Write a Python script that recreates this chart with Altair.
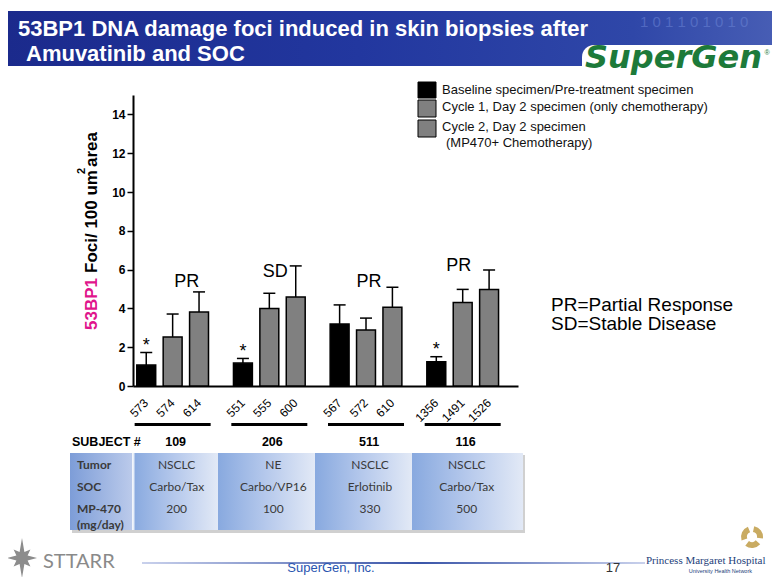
import altair as alt
import pandas as pd

# ---------------- data ----------------
subjects = ["109", "206", "511", "116"]
responses = ["PR", "SD", "PR", "PR"]
tumor_types = ["NSCLC", "NE", "NSCLC", "NSCLC"]
soc_regimens = ["Carbo/Tax", "Carbo/VP16", "Erlotinib", "Carbo/Tax"]
mp470_doses = ["200", "100", "330", "500"]
timepoints = ["Baseline specimen/Pre-treatment specimen",
              "Cycle 1, Day 2 specimen (only chemotherapy)",
              "Cycle 2, Day 2 specimen (MP470+ Chemotherapy)"]
specimen_ids = ["573", "574", "614", "551", "555", "600",
                "567", "572", "610", "1356", "1491", "1526"]
foci_mean = [1.08, 2.53, 3.81, 1.18, 3.99, 4.59, 3.20, 2.89, 4.06, 1.25, 4.31, 4.98]
foci_error = [0.65, 1.18, 1.04, 0.24, 0.79, 1.60, 0.98, 0.61, 1.03, 0.26, 0.67, 1.00]
significance = ["*", "", "", "*", "", "", "", "", "", "*", "", ""]
y_ticks = [0, 2, 4, 6, 8, 10, 12, 14]
bar_colors = ["#000000", "#808080", "#808080"]

df = pd.DataFrame({
    "subject": [s for s in subjects for _ in range(3)],
    "timepoint": timepoints * 4,
    "specimen": specimen_ids,
    "foci": foci_mean,
    "err": foci_error,
    "sig": significance,
})
df["upper"] = df["foci"] + df["err"]

groups_df = pd.DataFrame({"subject": subjects, "response": responses,
                          "tumor": tumor_types, "soc": soc_regimens, "dose": mp470_doses})

# ---------------- layout helpers ----------------
SANS = "Liberation Sans, Arial, sans-serif"
CAL = "Lato, Open Sans, sans-serif"
SERIF = "Liberation Serif, Times New Roman, serif"
W, H = 385, 291
OX, OY = 133, 95          # page position of plot origin
CANVAS_W, CANVAS_H = 764, 569


def ax(x):
    return x - OX


def ay(y):
    return y - OY


one = pd.DataFrame({"k": [0]})


def rect(x, x2, y, y2, **kw):
    return alt.Chart(one).mark_rect(**kw).encode(
        x=alt.value(ax(x)), x2=alt.value(ax(x2)), y=alt.value(ay(y)), y2=alt.value(ay(y2)))


def label(txt, x, y, **kw):
    kw.setdefault("font", SANS)
    kw.setdefault("baseline", "middle")
    return alt.Chart(one).mark_text(text=txt, **kw).encode(
        x=alt.value(ax(x)), y=alt.value(ay(y)))


def hgrad(stops):
    return alt.LinearGradient(
        gradient="linear",
        stops=[alt.GradientStop(color=c, offset=o) for o, c in stops],
        x1=0, x2=1, y1=0, y2=0)


# ---------------- scales / encodings ----------------
xscale = alt.Scale(domain=subjects, paddingInner=0.18, paddingOuter=0.081, align=0)
xoscale = alt.Scale(domain=timepoints, paddingInner=0.283, paddingOuter=0.143)
yscale = alt.Scale(domain=[0, 15], nice=False, zero=True)
cscale = alt.Scale(domain=timepoints, range=bar_colors)

xaxis = alt.Axis(labels=False, ticks=False, title=None, domainColor="black", domainWidth=2)
yaxis = alt.Axis(values=y_ticks, title=None, grid=False, labelFont=SANS, labelFontWeight="bold",
                 labelFontSize=12, labelColor="black", labelPadding=2, tickSize=6,
                 tickWidth=1.5, tickColor="black", domainColor="black", domainWidth=2)

X = alt.X("subject:N", scale=xscale, axis=xaxis, sort=subjects)
XO = alt.XOffset("timepoint:N", scale=xoscale, sort=timepoints)


def Y(field):
    return alt.Y(field, type="quantitative", scale=yscale, axis=yaxis)


layers = []

# ---------------- header banner ----------------
layers.append(rect(7, 790, 11, 66, fill=hgrad([(0, "#1b2a8c"), (0.45, "#22379f"), (0.8, "#2f47a8"), (1, "#4a60b6")])))
layers.append(label("1 0 1 1 0 1 0 1 0", 640, 22, fontSize=15, color="#6f88d8", opacity=0.5,
                    align="left"))
layers.append(rect(582, 790, 45, 80, fill="white", cornerRadiusTopLeft=12))
layers.append(label("SuperGen", 585, 68, fontSize=32, fontWeight="bold", fontStyle="italic",
                    font="DejaVu Sans", color="#1d7a3a", baseline="alphabetic", align="left"))
layers.append(label("®", 767, 53, fontSize=7, color="#1d7a3a", align="center"))
layers.append(label("53BP1 DNA damage foci induced in skin biopsies after", 18, 29,
                    fontSize=22, fontWeight="bold", color="white", align="left"))
layers.append(label("Amuvatinib and SOC", 26, 54, fontSize=22, fontWeight="bold",
                    color="white", align="left"))

# ---------------- legend (manual) ----------------
layers.append(rect(418, 436, 82, 98, fill=bar_colors[0], stroke="black", strokeWidth=1))
layers.append(rect(418, 436, 100, 117, fill=bar_colors[1], stroke="black", strokeWidth=1))
layers.append(rect(418, 436, 120, 137, fill=bar_colors[2], stroke="black", strokeWidth=1))
layers.append(label(timepoints[0], 442, 90, fontSize=13, color="#111", align="left"))
layers.append(label(timepoints[1], 442, 107, fontSize=13, color="#111", align="left"))
layers.append(label("Cycle 2, Day 2 specimen", 442, 127, fontSize=13, color="#111", align="left"))
layers.append(label("(MP470+ Chemotherapy)", 446, 143, fontSize=13, color="#111", align="left"))

# ---------------- y axis title (multi-coloured) ----------------
layers.append(label("53BP1", 92, 330, fontSize=17, fontWeight="bold", color="#e0158c",
                    angle=270, align="left"))
layers.append(label("Foci/ 100 um", 92, 273, fontSize=17, fontWeight="bold", color="black",
                    angle=270, align="left"))
layers.append(label("2", 82, 171, fontSize=11, fontWeight="bold", color="black",
                    angle=270, align="center"))
layers.append(label("area", 92, 167, fontSize=17, fontWeight="bold", color="black",
                    angle=270, align="left"))

# ---------------- bars, error bars ----------------
layers.append(alt.Chart(df).mark_bar(stroke="black", strokeWidth=1.5).encode(
    x=X, xOffset=XO, y=Y("foci"),
    color=alt.Color("timepoint:N", scale=cscale, legend=None)))
layers.append(alt.Chart(df).mark_rule(color="black", strokeWidth=1.5).encode(
    x=X, xOffset=XO, y=Y("foci"), y2=alt.Y2("upper:Q")))
layers.append(alt.Chart(df).mark_tick(color="black", thickness=1.5, size=12, opacity=1).encode(
    x=X, xOffset=XO, y=Y("upper")))
layers.append(alt.Chart(df).transform_filter("datum.sig != ''").mark_text(
    font=SANS, fontSize=18, baseline="alphabetic", dy=-1.5, color="black").encode(
    x=X, xOffset=XO, y=Y("upper"), text="sig:N"))

# response annotations
annot_dx = [14, 6, 3, -4]
annot_y = [282, 272, 282, 266]
for i, s in enumerate(subjects):
    layers.append(alt.Chart(groups_df).transform_filter(f"datum.subject == '{s}'").mark_text(
        font=SANS, fontSize=18, color="black", dx=annot_dx[i]).encode(
        x=X, y=alt.value(ay(annot_y[i])), text="response:N"))

# specimen labels, underlines, subject numbers
layers.append(alt.Chart(df).mark_text(font=SANS, fontSize=12, angle=315, align="right",
                                      baseline="middle", color="black").encode(
    x=X, xOffset=XO, y=alt.value(ay(401)), text="specimen:N"))
layers.append(alt.Chart(groups_df).mark_bar(size=76, color="black").encode(
    x=X, y=alt.value(ay(423)), y2=alt.value(ay(426))))
layers.append(label("SUBJECT #", 72, 442, fontSize=12.5, fontWeight="bold", color="black",
                    align="left"))
layers.append(alt.Chart(groups_df).mark_text(font=SANS, fontSize=12.5, fontWeight="bold",
                                             color="black", dx=3).encode(
    x=X, y=alt.value(ay(442)), text="subject:N"))

# ---------------- table ----------------
col_edges = [70, 133, 218, 315, 412, 523]
layers.append(rect(72, 525, 455, 533, fill="#d0d0d0"))
layers.append(rect(col_edges[0], col_edges[1], 453, 530,
                   fill=hgrad([(0, "#7d9dd8"), (1, "#bccbeb")])))
for i in range(1, 5):
    layers.append(rect(col_edges[i], col_edges[i + 1], 453, 530,
                       fill=hgrad([(0, "#88a9df"), (0.5, "#b6c9ec"), (1, "#e2e9f6")])))
layers.append(rect(132, 134.5, 453, 530, fill="white", opacity=0.8))
for txt, yy in [("Tumor", 465), ("SOC", 487), ("MP-470", 509), ("(mg/day)", 525)]:
    layers.append(label(txt, 77, yy, fontSize=12, fontWeight="bold", font=CAL,
                        color="#3a3a3a", align="left"))
for field, yy in [("tumor", 465), ("soc", 487), ("dose", 509)]:
    layers.append(alt.Chart(groups_df).mark_text(font=CAL, fontSize=12, color="#3a3a3a",
                                                 dx=4).encode(
        x=X, y=alt.value(ay(yy)), text=f"{field}:N"))

# ---------------- right-hand notes ----------------
layers.append(label("PR=Partial Response", 551, 305, fontSize=19, color="black", align="left"))
layers.append(label("SD=Stable Disease", 551, 324, fontSize=19, color="black", align="left"))

# ---------------- footer ----------------
star = ("M0,-1 L0.12,-0.3 L0.42,-0.42 L0.28,-0.12 L0.75,0 L0.28,0.12 L0.42,0.42 "
        "L0.12,0.3 L0,1 L-0.12,0.3 L-0.42,0.42 L-0.28,0.12 L-0.75,0 L-0.28,-0.12 "
        "L-0.42,-0.42 L-0.12,-0.3 Z")
layers.append(alt.Chart(one).mark_point(shape=star, size=1600, filled=True, color="#8c8c8c",
                                        opacity=1).encode(x=alt.value(ax(22)), y=alt.value(ay(558))))
layers.append(label("STTARR", 43, 562, fontSize=20, font=CAL, color="#8a8a8a", align="left"))
layers.append(rect(142, 645, 562, 564,
                   fill=hgrad([(0, "#c9d1ec"), (0.55, "#3a55a8"), (1, "#c9d1ec")])))
layers.append(label("SuperGen, Inc.", 331, 568, fontSize=13, color="#2a55b0", align="center"))
layers.append(label("17", 613, 568, fontSize=13, color="#333", align="center"))
layers.append(label("Princess Margaret Hospital", 646, 561, fontSize=11, font=SERIF,
                    color="#233e7a", align="left"))
layers.append(label("University Health Network", 752, 571, fontSize=5.5, color="#233e7a",
                    align="right"))
for t0, t1 in [(0.2, 1.7), (2.3, 3.8), (4.4, 5.9)]:
    layers.append(alt.Chart(one).mark_arc(theta=t0, theta2=t1, radius=11, radius2=5,
                                          color="#c9ab62").encode(
        x=alt.value(ax(752)), y=alt.value(ay(537))))

chart = alt.layer(*layers).properties(
    width=W, height=H,
    autosize=alt.AutoSizeParams(type="none"),
    padding={"left": OX - 8, "top": OY - 8, "right": CANVAS_W - (OX - 8) - W,
             "bottom": CANVAS_H - (OY - 8) - H},
    background="white",
).configure_view(strokeWidth=0)

chart.save("out.html", embed_options={"renderer": "svg", "actions": False})
